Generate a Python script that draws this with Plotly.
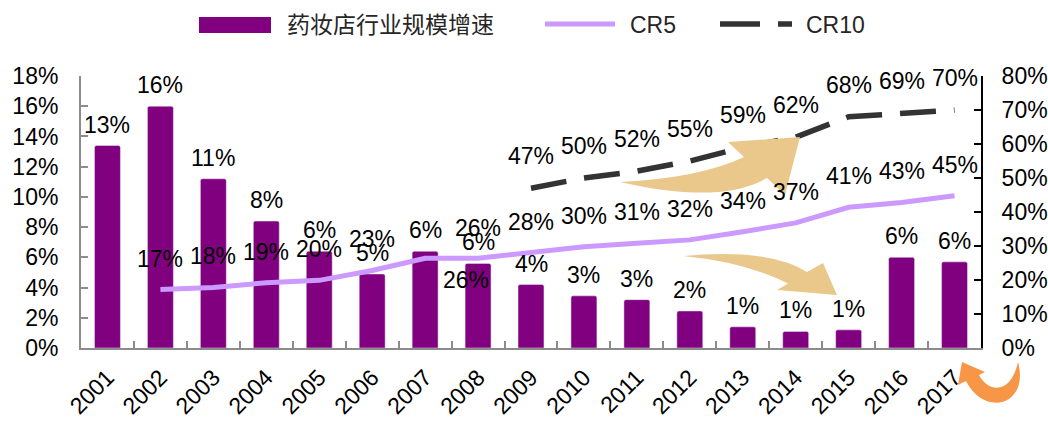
import plotly.graph_objects as go

# data (percent units)
years = [str(y) for y in range(2001, 2018)]
growth = [13.4, 16.0, 11.2, 8.4, 6.4, 4.9, 6.4, 5.6, 4.2, 3.45, 3.2, 2.45, 1.4, 1.1, 1.2, 6.0, 5.7]
cr5 = [None, 17.2, 17.8, 19.2, 19.9, 22.8, 26.4, 26.4, 28.0, 29.8, 30.8, 31.8, 34.2, 36.8, 41.4, 42.8, 44.8]
cr10 = [None] * 8 + [47, 50, 52, 55, 59, 62, 68, 69, 70]
left_ticks = list(range(0, 19, 2))
right_ticks = list(range(0, 81, 10))

BAR_NAME = "药妆店行业规模增速"
FONT = "Liberation Sans, Arial, Noto Sans CJK SC, sans-serif"
PURPLE = "#800080"
LILAC = "#CC99FF"
DARK = "#333333"
TAN = "#EAC88B"
ORANGE = "#F79646"

# plot area in pixels (used only for decorative shapes / legend)
X0, X1, Y0, Y1 = 81, 981, 76, 348


def to_paper(x, y):
    return (x - X0) / (X1 - X0), (Y1 - y) / (Y1 - Y0)


def make_path(cmds):
    out = []
    for c, pts in cmds:
        s = c
        for p in pts:
            px, py = to_paper(*p)
            s += f" {px:.4f},{py:.4f}"
        out.append(s)
    return " ".join(out) + " Z"


fig = go.Figure()

fig.add_trace(go.Bar(
    x=years, y=growth, name=BAR_NAME,
    marker=dict(color=PURPLE, cornerradius=2),
    showlegend=False,
))
fig.add_trace(go.Scatter(
    x=years, y=cr5, name="CR5", yaxis="y2", mode="lines",
    line=dict(color=LILAC, width=5), showlegend=False,
))
fig.add_trace(go.Scatter(
    x=years, y=cr10, name="CR10", yaxis="y2", mode="lines",
    line=dict(color=DARK, width=5.5, dash="36px,18px"), showlegend=False,
))

# value labels (x given as category index so numeric-looking years are not read as numbers)
annotations = []
lab_font = dict(family=FONT, size=23, color="black")
for i, v in enumerate(growth):
    annotations.append(dict(x=i, y=v, yref="y", text=f"{round(v)}%", showarrow=False,
                            yanchor="middle", yshift=21, font=lab_font))

cr5_shift = {"2007": (41, -22), "2008": (0, 30)}
for i, (yr, v) in enumerate(zip(years, cr5)):
    if v is None:
        continue
    xs, ys = cr5_shift.get(yr, (0, 31))
    annotations.append(dict(x=i, y=v, yref="y2", text=f"{round(v)}%", showarrow=False,
                            yanchor="middle", xshift=xs, yshift=ys, font=lab_font))
for i, v in enumerate(cr10):
    if v is None:
        continue
    annotations.append(dict(x=i, y=v, yref="y2", text=f"{round(v)}%", showarrow=False,
                            yanchor="middle", yshift=32, font=lab_font))

# hand-drawn legend along the top
leg_font = dict(family=FONT, size=23, color="#262626")
for name, xpx in [(BAR_NAME, 285), ("CR5", 628), ("CR10", 804)]:
    lx, ly = to_paper(xpx, 25)
    annotations.append(dict(x=lx, y=ly, xref="paper", yref="paper", text=name, showarrow=False,
                            xanchor="left", yanchor="middle", font=leg_font))

shapes = []
ax0, ay0 = to_paper(199, 33)
ax1, ay1 = to_paper(271, 17)
shapes.append(dict(type="rect", xref="paper", yref="paper", x0=ax0, y0=ay0, x1=ax1, y1=ay1,
                   fillcolor=PURPLE, line=dict(width=0)))
lx0, ly = to_paper(545, 24)
lx1, _ = to_paper(615, 24)
shapes.append(dict(type="line", xref="paper", yref="paper", x0=lx0, y0=ly, x1=lx1, y1=ly,
                   line=dict(color=LILAC, width=5)))
lx0, ly = to_paper(720, 24)
lx1, _ = to_paper(792, 24)
shapes.append(dict(type="line", xref="paper", yref="paper", x0=lx0, y0=ly, x1=lx1, y1=ly,
                   line=dict(color=DARK, width=5.5, dash="40px,18px")))

# decorative arrows
arrow_up = make_path([("M", [(620, 182)]), ("Q", [(700, 178), (744, 157)]), ("L", [(728, 142)]),
                      ("L", [(800, 137)]), ("L", [(785, 195)]), ("L", [(767, 178)]),
                      ("Q", [(720, 205), (620, 182)])])
arrow_down = make_path([("M", [(683, 256)]), ("Q", [(770, 248), (807, 272)]), ("L", [(823, 263)]),
                        ("L", [(837, 295)]), ("L", [(777, 290)]), ("L", [(788, 283.5)]),
                        ("Q", [(745, 262), (683, 256)])])
arrow_turn = make_path([("M", [(962, 362)]), ("L", [(985, 372)]), ("L", [(979, 375)]),
                        ("C", [(990, 395), (1012, 392), (1018, 362)]),
                        ("C", [(1030, 405), (985, 418), (966, 381)]), ("L", [(958, 385)])])
for p, col in [(arrow_up, TAN), (arrow_down, TAN), (arrow_turn, ORANGE)]:
    shapes.append(dict(type="path", xref="paper", yref="paper", path=p, fillcolor=col,
                       line=dict(width=0), layer="above"))

fig.update_layout(
    width=1048, height=421,
    margin=dict(l=X0, r=1048 - X1, t=Y0, b=421 - Y1),
    paper_bgcolor="white", plot_bgcolor="white",
    font=dict(family=FONT, size=23, color="black"),
    bargap=0.51,
    showlegend=False,
    annotations=annotations,
    shapes=shapes,
    xaxis=dict(
        type="category", range=[-0.5, len(years) - 0.5], tickangle=-45,
        ticks="inside", tickson="boundaries", automargin=False,
        ticklen=7, tickwidth=1.5, tickcolor="#8C8C8C",
        showline=True, linecolor="#8C8C8C", linewidth=2, showgrid=False,
        ticklabelstandoff=5, tickfont=dict(size=23),
    ),
    yaxis=dict(
        range=[0, 18], tickvals=left_ticks, ticktext=[f"{t}%" for t in left_ticks],
        ticks="inside", ticklen=7, tickwidth=1.5, tickcolor="#8C8C8C", automargin=False,
        showline=True, linecolor="#8C8C8C", linewidth=2, showgrid=False, zeroline=False,
        ticklabelstandoff=16, tickfont=dict(size=23),
    ),
    yaxis2=dict(
        range=[0, 80], tickvals=right_ticks, ticktext=[f"{t}%" for t in right_ticks],
        ticks="inside", ticklen=7, tickwidth=1.5, tickcolor="black", automargin=False,
        showline=True, linecolor="black", linewidth=2, showgrid=False, zeroline=False,
        overlaying="y", side="right", ticklabelstandoff=14, tickfont=dict(size=23),
    ),
)

# drop the browser's default 8px body margin so the figure sits at the window origin
fig.write_html("out.html", config={"displayModeBar": False},
               post_script="document.body.style.margin='0';")
